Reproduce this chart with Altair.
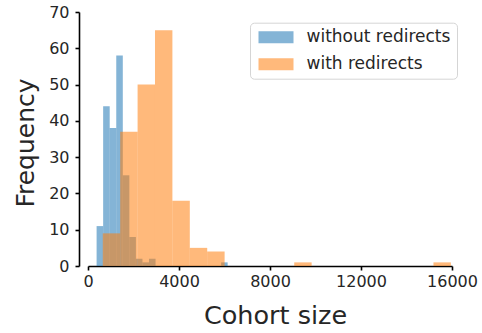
import altair as alt
import pandas as pd

# Histogram bins (20 bins per series)
blue_edges = [378, 666, 954, 1242, 1530, 1818, 2106, 2394, 2682, 2970, 3258,
              3546, 3834, 4122, 4410, 4698, 4986, 5274, 5562, 5850, 6138]
blue_counts = [11, 44, 38, 58, 25, 8, 2, 1, 2, 0, 0, 0, 0, 0, 0, 0, 0, 0, 0, 1]
orange_edges = [650, 1415, 2180, 2945, 3710, 4475, 5240, 6005, 6770, 7535, 8300,
                9065, 9830, 10595, 11360, 12125, 12890, 13655, 14420, 15185, 15950]
orange_counts = [9, 37, 50, 65, 18, 5, 4, 0, 0, 0, 0, 1, 0, 0, 0, 0, 0, 0, 0, 1]

series = ["without redirects", "with redirects"]
colors = ["#1f77b4", "#ff7f0e"]
x_ticks = [0, 4000, 8000, 12000, 16000]
y_ticks = [0, 10, 20, 30, 40, 50, 60, 70]

rows = []
for name, edges, counts in [(series[0], blue_edges, blue_counts),
                            (series[1], orange_edges, orange_counts)]:
    for i, c in enumerate(counts):
        if c > 0:
            rows.append({"series": name, "start": edges[i], "end": edges[i + 1], "count": c})
df = pd.DataFrame(rows)

FONT = "DejaVu Sans"
TXT = "#262626"

chart = alt.Chart(df).mark_rect(opacity=0.55).encode(
    x=alt.X("start:Q",
            scale=alt.Scale(domain=[0, 16000], nice=False, zero=False),
            axis=alt.Axis(values=x_ticks, format="d", title="Cohort size",
                          grid=False, labelFontSize=16, labelFont=FONT, labelColor=TXT,
                          domainColor="black", domainWidth=1.6, tickColor="black",
                          tickWidth=1.6, tickSize=4, labelPadding=3, labelFlush=False,
                          titleFont=FONT, titleFontSize=25.5, titleFontWeight="normal",
                          titleColor=TXT, titleX=187, titleY=57.5,
                          titleBaseline="alphabetic")),
    x2="end:Q",
    y=alt.Y("count:Q",
            scale=alt.Scale(domain=[0, 70], nice=False),
            axis=alt.Axis(values=y_ticks, title="Frequency", grid=False, offset=9,
                          labelFontSize=16, labelFont=FONT, labelColor=TXT,
                          domainColor="black", domainWidth=1.6, tickColor="black",
                          tickWidth=1.6, tickSize=4, labelPadding=6,
                          titleFont=FONT, titleFontSize=25, titleFontWeight="normal",
                          titleColor=TXT, titleAngle=270, titleAlign="center",
                          titleBaseline="alphabetic", titleX=-46, titleY=130.5)),
    y2=alt.datum(0),
    color=alt.Color("series:N",
                    scale=alt.Scale(domain=series, range=colors),
                    legend=alt.Legend(title=None, orient="none", legendX=162, legendY=10.7,
                                      symbolType="M-2.917,-1L2.917,-1L2.917,1L-2.917,1Z",
                                      symbolSize=144, symbolOpacity=0.55,
                                      symbolStrokeWidth=0, symbolOffset=11.5,
                                      labelFont=FONT, labelFontSize=17, labelColor=TXT,
                                      labelOffset=22, padding=6, rowPadding=9,
                                      strokeColor="#d5d5d5", fillColor="white",
                                      cornerRadius=4)),
).properties(
    width=364, height=254,
    autosize=alt.AutoSizeParams(type="none"),
    padding={"left": 88, "top": 12, "right": 30, "bottom": 67},
).configure_view(stroke=None)

chart.save("out.html", embed_options={"renderer": "svg", "actions": False})
